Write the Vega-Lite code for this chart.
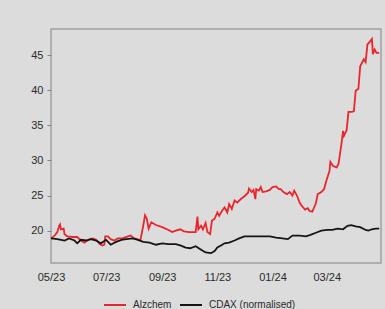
{
  "$schema": "https://vega.github.io/schema/vega-lite/v6.json",
  "width": 330,
  "height": 234,
  "autosize": {"type": "none"},
  "padding": {"left": 51, "top": 29, "right": 4, "bottom": 46},
  "background": "#dcdcdc",
  "config": {
    "font": "Liberation Sans",
    "view": {"stroke": "#a0a0a0", "strokeWidth": 1.5}
  },
  "data": {"values": [
    {"date":"2023-05-01","series":"Alzchem","value":18.9},
    {"date":"2023-05-05","series":"Alzchem","value":19.3},
    {"date":"2023-05-08","series":"Alzchem","value":19.8},
    {"date":"2023-05-10","series":"Alzchem","value":20.7},
    {"date":"2023-05-11","series":"Alzchem","value":20.9},
    {"date":"2023-05-12","series":"Alzchem","value":20.2},
    {"date":"2023-05-15","series":"Alzchem","value":20.3},
    {"date":"2023-05-16","series":"Alzchem","value":19.5},
    {"date":"2023-05-19","series":"Alzchem","value":19.2},
    {"date":"2023-05-25","series":"Alzchem","value":19.1},
    {"date":"2023-05-30","series":"Alzchem","value":19.1},
    {"date":"2023-06-03","series":"Alzchem","value":18.6},
    {"date":"2023-06-07","series":"Alzchem","value":18.3},
    {"date":"2023-06-11","series":"Alzchem","value":18.7},
    {"date":"2023-06-16","series":"Alzchem","value":18.9},
    {"date":"2023-06-20","series":"Alzchem","value":18.7},
    {"date":"2023-06-24","series":"Alzchem","value":18.1},
    {"date":"2023-06-27","series":"Alzchem","value":17.9},
    {"date":"2023-06-29","series":"Alzchem","value":18.0},
    {"date":"2023-06-30","series":"Alzchem","value":19.2},
    {"date":"2023-07-03","series":"Alzchem","value":19.2},
    {"date":"2023-07-06","series":"Alzchem","value":18.8},
    {"date":"2023-07-10","series":"Alzchem","value":18.6},
    {"date":"2023-07-14","series":"Alzchem","value":18.9},
    {"date":"2023-07-19","series":"Alzchem","value":18.9},
    {"date":"2023-07-25","series":"Alzchem","value":19.2},
    {"date":"2023-07-28","series":"Alzchem","value":19.3},
    {"date":"2023-08-01","series":"Alzchem","value":18.9},
    {"date":"2023-08-07","series":"Alzchem","value":18.7},
    {"date":"2023-08-08","series":"Alzchem","value":18.7},
    {"date":"2023-08-11","series":"Alzchem","value":20.7},
    {"date":"2023-08-13","series":"Alzchem","value":22.2},
    {"date":"2023-08-15","series":"Alzchem","value":21.7},
    {"date":"2023-08-17","series":"Alzchem","value":20.3},
    {"date":"2023-08-20","series":"Alzchem","value":21.2},
    {"date":"2023-08-25","series":"Alzchem","value":20.8},
    {"date":"2023-09-01","series":"Alzchem","value":20.5},
    {"date":"2023-09-08","series":"Alzchem","value":20.1},
    {"date":"2023-09-12","series":"Alzchem","value":19.8},
    {"date":"2023-09-16","series":"Alzchem","value":20.0},
    {"date":"2023-09-21","series":"Alzchem","value":20.2},
    {"date":"2023-09-25","series":"Alzchem","value":19.9},
    {"date":"2023-10-01","series":"Alzchem","value":19.8},
    {"date":"2023-10-06","series":"Alzchem","value":19.8},
    {"date":"2023-10-08","series":"Alzchem","value":19.8},
    {"date":"2023-10-10","series":"Alzchem","value":22.0},
    {"date":"2023-10-11","series":"Alzchem","value":20.2},
    {"date":"2023-10-14","series":"Alzchem","value":20.7},
    {"date":"2023-10-16","series":"Alzchem","value":20.2},
    {"date":"2023-10-19","series":"Alzchem","value":21.1},
    {"date":"2023-10-21","series":"Alzchem","value":19.8},
    {"date":"2023-10-24","series":"Alzchem","value":19.5},
    {"date":"2023-10-26","series":"Alzchem","value":21.4},
    {"date":"2023-10-29","series":"Alzchem","value":21.7},
    {"date":"2023-11-01","series":"Alzchem","value":22.6},
    {"date":"2023-11-03","series":"Alzchem","value":22.1},
    {"date":"2023-11-06","series":"Alzchem","value":22.8},
    {"date":"2023-11-09","series":"Alzchem","value":23.3},
    {"date":"2023-11-12","series":"Alzchem","value":22.6},
    {"date":"2023-11-14","series":"Alzchem","value":23.8},
    {"date":"2023-11-17","series":"Alzchem","value":23.1},
    {"date":"2023-11-20","series":"Alzchem","value":24.3},
    {"date":"2023-11-23","series":"Alzchem","value":24.0},
    {"date":"2023-11-27","series":"Alzchem","value":24.5},
    {"date":"2023-12-01","series":"Alzchem","value":24.9},
    {"date":"2023-12-05","series":"Alzchem","value":25.4},
    {"date":"2023-12-06","series":"Alzchem","value":26.0},
    {"date":"2023-12-09","series":"Alzchem","value":25.5},
    {"date":"2023-12-11","series":"Alzchem","value":25.8},
    {"date":"2023-12-13","series":"Alzchem","value":24.5},
    {"date":"2023-12-14","series":"Alzchem","value":25.9},
    {"date":"2023-12-17","series":"Alzchem","value":25.7},
    {"date":"2023-12-19","series":"Alzchem","value":26.2},
    {"date":"2023-12-21","series":"Alzchem","value":25.5},
    {"date":"2023-12-25","series":"Alzchem","value":25.6},
    {"date":"2023-12-29","series":"Alzchem","value":25.8},
    {"date":"2024-01-01","series":"Alzchem","value":26.2},
    {"date":"2024-01-05","series":"Alzchem","value":26.3},
    {"date":"2024-01-08","series":"Alzchem","value":25.9},
    {"date":"2024-01-10","series":"Alzchem","value":25.9},
    {"date":"2024-01-13","series":"Alzchem","value":25.5},
    {"date":"2024-01-17","series":"Alzchem","value":25.2},
    {"date":"2024-01-20","series":"Alzchem","value":25.5},
    {"date":"2024-01-23","series":"Alzchem","value":25.0},
    {"date":"2024-01-25","series":"Alzchem","value":25.7},
    {"date":"2024-01-28","series":"Alzchem","value":25.0},
    {"date":"2024-01-31","series":"Alzchem","value":24.0},
    {"date":"2024-02-02","series":"Alzchem","value":23.6},
    {"date":"2024-02-04","series":"Alzchem","value":23.3},
    {"date":"2024-02-06","series":"Alzchem","value":23.0},
    {"date":"2024-02-09","series":"Alzchem","value":23.2},
    {"date":"2024-02-11","series":"Alzchem","value":22.8},
    {"date":"2024-02-14","series":"Alzchem","value":22.7},
    {"date":"2024-02-16","series":"Alzchem","value":23.3},
    {"date":"2024-02-18","series":"Alzchem","value":23.9},
    {"date":"2024-02-20","series":"Alzchem","value":25.2},
    {"date":"2024-02-24","series":"Alzchem","value":25.5},
    {"date":"2024-02-27","series":"Alzchem","value":25.9},
    {"date":"2024-03-01","series":"Alzchem","value":27.3},
    {"date":"2024-03-04","series":"Alzchem","value":28.5},
    {"date":"2024-03-05","series":"Alzchem","value":29.8},
    {"date":"2024-03-08","series":"Alzchem","value":29.2},
    {"date":"2024-03-12","series":"Alzchem","value":29.0},
    {"date":"2024-03-14","series":"Alzchem","value":29.5},
    {"date":"2024-03-17","series":"Alzchem","value":32.1},
    {"date":"2024-03-19","series":"Alzchem","value":34.2},
    {"date":"2024-03-20","series":"Alzchem","value":33.5},
    {"date":"2024-03-23","series":"Alzchem","value":34.3},
    {"date":"2024-03-25","series":"Alzchem","value":36.9},
    {"date":"2024-03-29","series":"Alzchem","value":36.9},
    {"date":"2024-03-31","series":"Alzchem","value":37.0},
    {"date":"2024-04-02","series":"Alzchem","value":39.9},
    {"date":"2024-04-05","series":"Alzchem","value":40.2},
    {"date":"2024-04-07","series":"Alzchem","value":43.4},
    {"date":"2024-04-09","series":"Alzchem","value":43.9},
    {"date":"2024-04-11","series":"Alzchem","value":44.4},
    {"date":"2024-04-13","series":"Alzchem","value":44.0},
    {"date":"2024-04-15","series":"Alzchem","value":46.5},
    {"date":"2024-04-17","series":"Alzchem","value":46.8},
    {"date":"2024-04-20","series":"Alzchem","value":47.3},
    {"date":"2024-04-21","series":"Alzchem","value":45.1},
    {"date":"2024-04-23","series":"Alzchem","value":45.8},
    {"date":"2024-04-25","series":"Alzchem","value":45.3},
    {"date":"2024-04-28","series":"Alzchem","value":45.3},
    {"date":"2023-05-01","series":"CDAX (normalised)","value":18.9},
    {"date":"2023-05-08","series":"CDAX (normalised)","value":18.8},
    {"date":"2023-05-16","series":"CDAX (normalised)","value":18.6},
    {"date":"2023-05-21","series":"CDAX (normalised)","value":18.9},
    {"date":"2023-05-27","series":"CDAX (normalised)","value":18.6},
    {"date":"2023-05-30","series":"CDAX (normalised)","value":18.2},
    {"date":"2023-06-03","series":"CDAX (normalised)","value":18.7},
    {"date":"2023-06-09","series":"CDAX (normalised)","value":18.6},
    {"date":"2023-06-14","series":"CDAX (normalised)","value":18.8},
    {"date":"2023-06-20","series":"CDAX (normalised)","value":18.6},
    {"date":"2023-06-25","series":"CDAX (normalised)","value":18.2},
    {"date":"2023-07-01","series":"CDAX (normalised)","value":18.7},
    {"date":"2023-07-06","series":"CDAX (normalised)","value":18.0},
    {"date":"2023-07-12","series":"CDAX (normalised)","value":18.4},
    {"date":"2023-07-18","series":"CDAX (normalised)","value":18.7},
    {"date":"2023-07-23","series":"CDAX (normalised)","value":18.8},
    {"date":"2023-07-31","series":"CDAX (normalised)","value":18.9},
    {"date":"2023-08-05","series":"CDAX (normalised)","value":18.7},
    {"date":"2023-08-11","series":"CDAX (normalised)","value":18.4},
    {"date":"2023-08-18","series":"CDAX (normalised)","value":18.3},
    {"date":"2023-08-25","series":"CDAX (normalised)","value":18.0},
    {"date":"2023-09-01","series":"CDAX (normalised)","value":18.2},
    {"date":"2023-09-08","series":"CDAX (normalised)","value":18.1},
    {"date":"2023-09-16","series":"CDAX (normalised)","value":18.1},
    {"date":"2023-09-21","series":"CDAX (normalised)","value":17.9},
    {"date":"2023-09-27","series":"CDAX (normalised)","value":17.6},
    {"date":"2023-10-02","series":"CDAX (normalised)","value":17.5},
    {"date":"2023-10-08","series":"CDAX (normalised)","value":17.8},
    {"date":"2023-10-14","series":"CDAX (normalised)","value":17.3},
    {"date":"2023-10-19","series":"CDAX (normalised)","value":16.9},
    {"date":"2023-10-25","series":"CDAX (normalised)","value":16.8},
    {"date":"2023-10-29","series":"CDAX (normalised)","value":17.1},
    {"date":"2023-11-01","series":"CDAX (normalised)","value":17.6},
    {"date":"2023-11-05","series":"CDAX (normalised)","value":17.9},
    {"date":"2023-11-09","series":"CDAX (normalised)","value":18.2},
    {"date":"2023-11-14","series":"CDAX (normalised)","value":18.3},
    {"date":"2023-11-20","series":"CDAX (normalised)","value":18.6},
    {"date":"2023-11-25","series":"CDAX (normalised)","value":18.9},
    {"date":"2023-12-01","series":"CDAX (normalised)","value":19.2},
    {"date":"2023-12-06","series":"CDAX (normalised)","value":19.2},
    {"date":"2023-12-14","series":"CDAX (normalised)","value":19.2},
    {"date":"2023-12-21","series":"CDAX (normalised)","value":19.2},
    {"date":"2023-12-29","series":"CDAX (normalised)","value":19.2},
    {"date":"2024-01-05","series":"CDAX (normalised)","value":19.0},
    {"date":"2024-01-12","series":"CDAX (normalised)","value":18.9},
    {"date":"2024-01-18","series":"CDAX (normalised)","value":18.8},
    {"date":"2024-01-23","series":"CDAX (normalised)","value":19.3},
    {"date":"2024-01-31","series":"CDAX (normalised)","value":19.3},
    {"date":"2024-02-07","series":"CDAX (normalised)","value":19.2},
    {"date":"2024-02-12","series":"CDAX (normalised)","value":19.4},
    {"date":"2024-02-18","series":"CDAX (normalised)","value":19.7},
    {"date":"2024-02-24","series":"CDAX (normalised)","value":20.0},
    {"date":"2024-03-02","series":"CDAX (normalised)","value":20.1},
    {"date":"2024-03-07","series":"CDAX (normalised)","value":20.1},
    {"date":"2024-03-13","series":"CDAX (normalised)","value":20.3},
    {"date":"2024-03-19","series":"CDAX (normalised)","value":20.2},
    {"date":"2024-03-24","series":"CDAX (normalised)","value":20.7},
    {"date":"2024-03-28","series":"CDAX (normalised)","value":20.8},
    {"date":"2024-04-02","series":"CDAX (normalised)","value":20.6},
    {"date":"2024-04-07","series":"CDAX (normalised)","value":20.5},
    {"date":"2024-04-13","series":"CDAX (normalised)","value":20.1},
    {"date":"2024-04-16","series":"CDAX (normalised)","value":20.0},
    {"date":"2024-04-20","series":"CDAX (normalised)","value":20.2},
    {"date":"2024-04-24","series":"CDAX (normalised)","value":20.3},
    {"date":"2024-04-28","series":"CDAX (normalised)","value":20.3}
  ]},
  "mark": {"type": "line", "strokeWidth": 1.8},
  "encoding": {
    "x": {
      "field": "date",
      "type": "temporal",
      "title": null,
      "scale": {"domain": ["2023-05-01", "2024-04-30"]},
      "axis": {
        "format": "%m/%y",
        "tickCount": {"interval": "month", "step": 2},
        "domain": false,
        "ticks": false,
        "grid": false,
        "labelPadding": 8,
        "labelFontSize": 11,
        "labelColor": "#2a2a2a",
        "labelFlush": false
      }
    },
    "y": {
      "field": "value",
      "type": "quantitative",
      "title": null,
      "scale": {"domain": [15.4, 48.7], "nice": false, "zero": false},
      "axis": {
        "values": [20, 25, 30, 35, 40, 45],
        "domain": false,
        "grid": false,
        "tickSize": 4,
        "tickColor": "#888888",
        "labelPadding": 4,
        "labelFontSize": 11,
        "labelColor": "#2a2a2a"
      }
    },
    "color": {
      "field": "series",
      "type": "nominal",
      "scale": {"domain": ["Alzchem", "CDAX (normalised)"], "range": ["#e8262d", "#151515"]},
      "legend": {
        "title": null,
        "orient": "none",
        "direction": "horizontal",
        "legendX": 52,
        "legendY": 264,
        "symbolType": "stroke",
        "symbolSize": 484,
        "symbolStrokeWidth": 2,
        "labelFontSize": 10,
        "labelColor": "#2a2a2a",
        "labelOffset": 6,
        "columnPadding": 4
      }
    }
  }
}
